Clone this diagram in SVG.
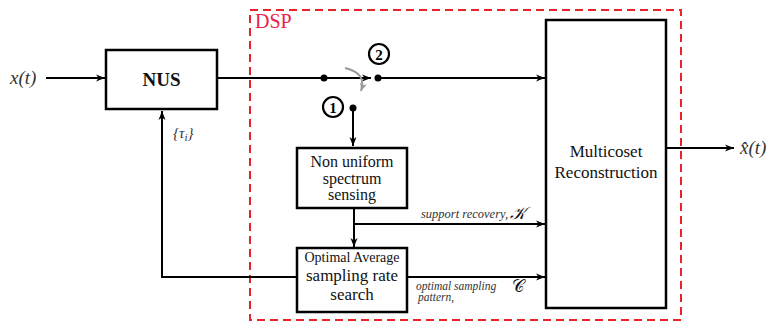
<svg xmlns="http://www.w3.org/2000/svg" width="774" height="324" viewBox="0 0 774 324">
<style>
.box{fill:#fff;stroke:#000;stroke-width:2.5}
.ln{fill:none;stroke:#000;stroke-width:2}
.t{font-family:"Liberation Serif","DejaVu Serif",serif;fill:#111}
.m{font-family:"Liberation Serif","DejaVu Serif",serif;font-style:italic;fill:#333}
.dsp{font-family:"Liberation Serif","DejaVu Serif",serif;font-size:20px;fill:#e8234a}
.c{font-family:"Liberation Serif","DejaVu Serif",serif;font-weight:bold;font-size:15px;fill:#000}
</style>
<defs>
<marker id="ah" markerWidth="10" markerHeight="8" refX="9" refY="4" orient="auto" markerUnits="userSpaceOnUse">
<path d="M0,0.5 L9,4 L0,7.5 L2.5,4 Z" fill="#000"/>
</marker>
<marker id="gh" markerWidth="10" markerHeight="8" refX="8" refY="4" orient="auto" markerUnits="userSpaceOnUse">
<path d="M0,0.5 L8,4 L0,7.5 L2,4 Z" fill="#999"/>
</marker>
</defs>
<rect x="250" y="10" width="431" height="310" fill="none" stroke="#e8232a" stroke-width="2" stroke-dasharray="8,5"/>
<text class="dsp" x="255" y="28">DSP</text>
<g id="connectors">
<line class="ln" x1="46" y1="78" x2="105" y2="78" marker-end="url(#ah)"/>
<line class="ln" x1="217" y1="78" x2="324" y2="78"/>
<line class="ln" x1="324" y1="78" x2="371" y2="78" marker-end="url(#ah)"/>
<line class="ln" x1="378" y1="78" x2="545" y2="78" marker-end="url(#ah)"/>
<line class="ln" x1="353" y1="108" x2="353" y2="146" marker-end="url(#ah)"/>
<line class="ln" x1="354" y1="208" x2="354" y2="247" marker-end="url(#ah)"/>
<line class="ln" x1="354" y1="224" x2="545" y2="224" marker-end="url(#ah)"/>
<line class="ln" x1="407" y1="277" x2="545" y2="277" marker-end="url(#ah)"/>
<polyline class="ln" points="297,277 162,277 162,111" marker-end="url(#ah)"/>
<line class="ln" x1="667" y1="148" x2="734" y2="148" marker-end="url(#ah)"/>
<path d="M345,68 Q367,73 361,91" fill="none" stroke="#999" stroke-width="2" marker-end="url(#gh)"/>
<circle cx="324" cy="78" r="3.5" fill="#000"/>
<circle cx="378" cy="78" r="3.5" fill="#000"/>
<circle cx="353" cy="108" r="3.5" fill="#000"/>
<circle cx="379" cy="54" r="10" fill="#fff" stroke="#000" stroke-width="2.2"/>
<text class="c" x="379" y="59.5" text-anchor="middle">2</text>
<circle cx="333" cy="107" r="10" fill="#fff" stroke="#000" stroke-width="2.2"/>
<text class="c" x="333" y="112.5" text-anchor="middle">1</text>
</g>
<text class="m" x="10" y="84" font-size="19">x(t)</text>
<text class="m" x="173" y="138" font-size="15">{τ<tspan font-size="11" dy="3">i</tspan><tspan dy="-3">}</tspan></text>
<text class="m" x="740" y="154" font-size="19">x̂(t)</text>
<text class="m" x="421" y="218" font-size="12.5">support recovery,</text>
<text class="t" x="510" y="219" font-size="17" font-style="italic">𝒦</text>
<text class="m" x="416" y="290" font-size="11.5">optimal sampling</text>
<text class="m" x="418" y="301" font-size="11.5">pattern,</text>
<text class="t" x="512" y="292" font-size="17">𝒞</text>
<g id="nus">
<rect class="box" x="106" y="50" width="111" height="59"/>
<text class="t" x="161.5" y="86" text-anchor="middle" font-size="19" font-weight="bold">NUS</text>
</g>
<g id="sensing">
<rect class="box" x="297" y="148" width="110" height="60"/>
<text class="t" x="352" y="167" text-anchor="middle" font-size="16">Non uniform</text>
<text class="t" x="352" y="183.5" text-anchor="middle" font-size="16">spectrum</text>
<text class="t" x="352" y="200" text-anchor="middle" font-size="16">sensing</text>
</g>
<g id="search">
<rect class="box" x="297" y="248" width="110" height="64"/>
<text class="t" x="352" y="262" text-anchor="middle" font-size="14">Optimal Average</text>
<text class="t" x="352" y="281" text-anchor="middle" font-size="17">sampling rate</text>
<text class="t" x="352" y="300" text-anchor="middle" font-size="17">search</text>
</g>
<g id="multicoset">
<rect class="box" x="546" y="20" width="120" height="288"/>
<text class="t" x="606" y="157" text-anchor="middle" font-size="17">Multicoset</text>
<text class="t" x="606" y="178" text-anchor="middle" font-size="17">Reconstruction</text>
</g>
</svg>
